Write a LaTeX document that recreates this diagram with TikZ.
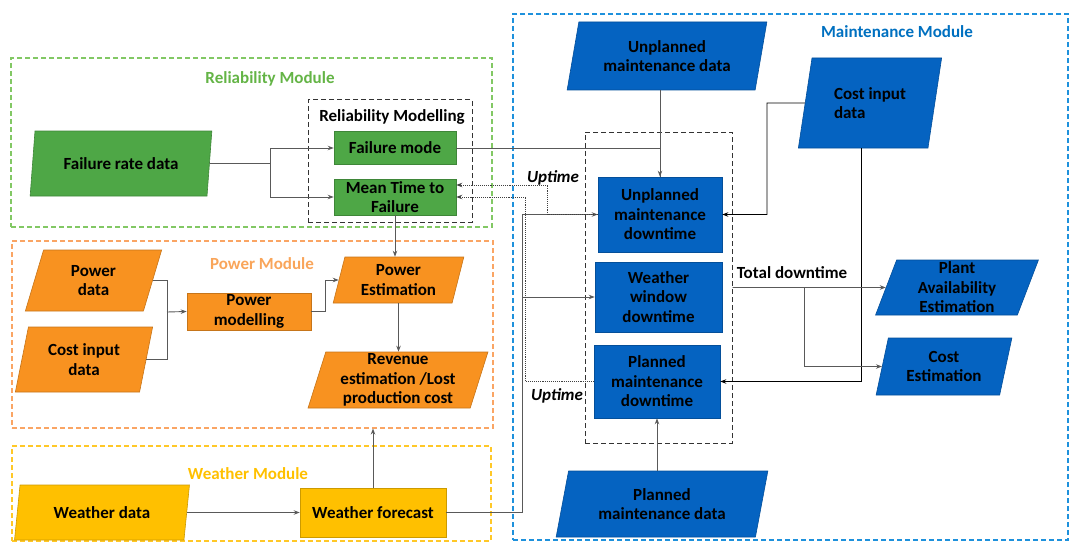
\documentclass[tikz,border=0pt]{standalone}
\usepackage{fontspec}
\setmainfont{Carlito}
\usetikzlibrary{shapes.geometric,arrows.meta}

\definecolor{relgreen}{RGB}{78,167,70}
\definecolor{relline}{RGB}{130,200,100}
\definecolor{reltext}{RGB}{100,180,70}
\definecolor{powfill}{RGB}{248,146,32}
\definecolor{powline}{RGB}{250,165,100}
\definecolor{powtext}{RGB}{249,165,90}
\definecolor{weafill}{RGB}{255,192,0}
\definecolor{wealine}{RGB}{255,200,40}
\definecolor{mainfill}{RGB}{5,99,193}
\definecolor{mainline}{RGB}{30,145,220}
\definecolor{maintext}{RGB}{0,112,192}

\begin{document}
\begin{tikzpicture}[x={(1pt,0)}, y={(0,-1pt)}, >={Stealth[length=6pt,width=4.5pt]},
  font=\bfseries\fontsize{17}{19.5}\selectfont,
  box/.style={draw=#1!80!black, fill=#1, line width=0.6pt, rectangle, align=center, inner sep=0pt},
  datain/.style={draw=#1!80!black, fill=#1, line width=0.6pt, trapezium, trapezium left angle=75,
    trapezium right angle=105, trapezium stretches=true, align=center, inner sep=0pt},
  module/.style={draw=#1, dash pattern=on 5pt off 3pt, line width=1.1pt, rectangle, inner sep=0pt},
  group/.style={draw=black!80, dash pattern=on 5pt off 3pt, line width=1pt, rectangle, inner sep=0pt},
  link/.style={draw=black!65, line width=0.9pt},
  uplink/.style={draw=black!75, densely dotted, line width=0.9pt, ->}]
  \useasboundingbox (0,0) rectangle (1072,543);

  \node[module=relline, minimum width=481pt, minimum height=169pt] (relmod) at (251.5,142.5) {};
  \node[module=powline, minimum width=481pt, minimum height=187pt] (powmod) at (252.5,334.5) {};
  \node[module=wealine, minimum width=479pt, minimum height=95pt] (weamod) at (251.5,493.5) {};
  \node[module=mainline, minimum width=555pt, minimum height=526pt] (mainmod) at (790.5,277) {};
  \node[group, minimum width=164pt, minimum height=122pt] (relgrp) at (390,161) {};
  \node[group, minimum width=147pt, minimum height=311pt] (dt) at (658.5,287.5) {};

  \node[text=reltext] (rellab) at (270,79) {Reliability Module};
  \node (rmlab) at (392,117) {Reliability Modelling};
  \node[text=powtext] (powlab) at (262,264) {Power Module};
  \node[text=weafill] (wealab) at (248,474) {Weather Module};
  \node[text=maintext] (mainlab) at (897,32) {Maintenance Module};

  \node[datain=relgreen, minimum width=182pt, minimum height=65pt] (frd) at (121,163.5) {Failure rate data};
  \node[box=relgreen, minimum width=122pt, minimum height=33pt] (fm) at (395,148) {Failure mode};
  \node[box=relgreen, minimum width=122pt, minimum height=36pt] (mttf) at (395,197) {Mean Time to\\Failure};

  \node[datain=powfill, minimum width=137pt, minimum height=61pt] (pd) at (93.5,280.5) {Power\\data};
  \node[datain=powfill, minimum width=138pt, minimum height=65pt] (cid) at (84,359.5) {Cost input\\data};
  \node[box=powfill, minimum width=124pt, minimum height=37pt] (pm) at (249,311.5) {Power\\modelling};
  \node[datain=powfill, minimum width=131pt, minimum height=46pt] (pe) at (398.5,280) {Power\\Estimation};
  \node[datain=powfill, minimum width=180pt, minimum height=56pt] (rev) at (398,380) {Revenue\\estimation /Lost\\production cost};

  \node[datain=weafill, minimum width=175pt, minimum height=55pt] (wd) at (102,512.5) {Weather data};
  \node[box=weafill, minimum width=146pt, minimum height=49pt] (wf) at (373,512.5) {Weather forecast};

  \node[datain=mainfill, minimum width=200pt, minimum height=68pt] (umd) at (667,56) {Unplanned\\maintenance data};
  \node[datain=mainfill, minimum width=144pt, minimum height=90pt, align=left] (cim) at (870,103) {Cost input\\data};
  \node[box=mainfill, minimum width=124pt, minimum height=75pt] (umdt) at (660,214.5) {Unplanned\\maintenance\\downtime};
  \node[box=mainfill, minimum width=127pt, minimum height=70pt] (wwd) at (658.5,297) {Weather\\window\\downtime};
  \node[box=mainfill, minimum width=126pt, minimum height=73pt] (pmdt) at (657,381.5) {Planned\\maintenance\\downtime};
  \node[datain=mainfill, minimum width=212pt, minimum height=66pt] (pmd) at (662,504) {Planned\\maintenance data};
  \node[datain=mainfill, minimum width=163pt, minimum height=55pt] (pae) at (957,287.5) {Plant\\Availability\\Estimation};
  \node[datain=mainfill, minimum width=136pt, minimum height=57pt] (ce) at (944,366.5) {Cost\\Estimation};

  \node[font=\bfseries\itshape\fontsize{17}{19.5}\selectfont] (up1) at (553,178) {Uptime};
  \node[font=\bfseries\itshape\fontsize{17}{19.5}\selectfont] (up2) at (557,396) {Uptime};
  \node (tdlab) at (792,273) {Total downtime};

  \coordinate (frdj) at (270,163.5);
  \coordinate (pj) at (167,312);
  \coordinate (wfj) at (522,512.5);
  \coordinate (cimj) at (767,103);
  \coordinate (tdj) at (804,287.5);

  \draw[link] (frd.east) -- (frdj);
  \draw[link, ->] (frdj) |- (fm.west);
  \draw[link, ->] (frdj) |- (mttf.west);
  \draw[link, ->] (mttf.south) -- (mttf.south |- pe.north);

  \draw[link] (pd.east) -| (pj);
  \draw[link] (cid.east) -| (pj);
  \draw[link, ->] (pj) -- (pm.west);
  \draw[link, ->] (pm.east) -- ++(14,0) |- (pe.west);
  \draw[link, ->] (pe.south) -- (pe.south |- rev.north);

  \draw[link, ->] (wd.east) -- (wf.west);
  \draw[link, ->] (wf.north) -- (wf.north |- powmod.south);
  \draw[link] (wf.east) -- (wfj);
  \draw[link, ->] (wfj) |- (umdt.west);
  \draw[link, ->] (wfj) |- (wwd.west);

  \draw[uplink] (umdt.west) -- ++(-50,0) |- ([yshift=12pt]mttf.east);
  \draw[uplink] (pmdt.west) -- ++(-68,0) |- (mttf.east);

  \draw[link, ->] (fm.east) -| (umdt.north);
  \draw[link] (umd.south -| umdt.north) -- (umdt.north);
  \draw[link, ->] (pmd.north -| pmdt.south) -- (pmdt.south);
  \draw[link, draw=black, ->] (cim.west) -- (cimj) |- (umdt.east);
  \draw[link, draw=black, ->] ([xshift=-9pt]cim.south) |- (pmdt.east);

  \draw[link, ->] (dt.east) -- (pae.west);
  \draw[link, ->] (tdj) |- (ce.west);
\end{tikzpicture}
\end{document}
